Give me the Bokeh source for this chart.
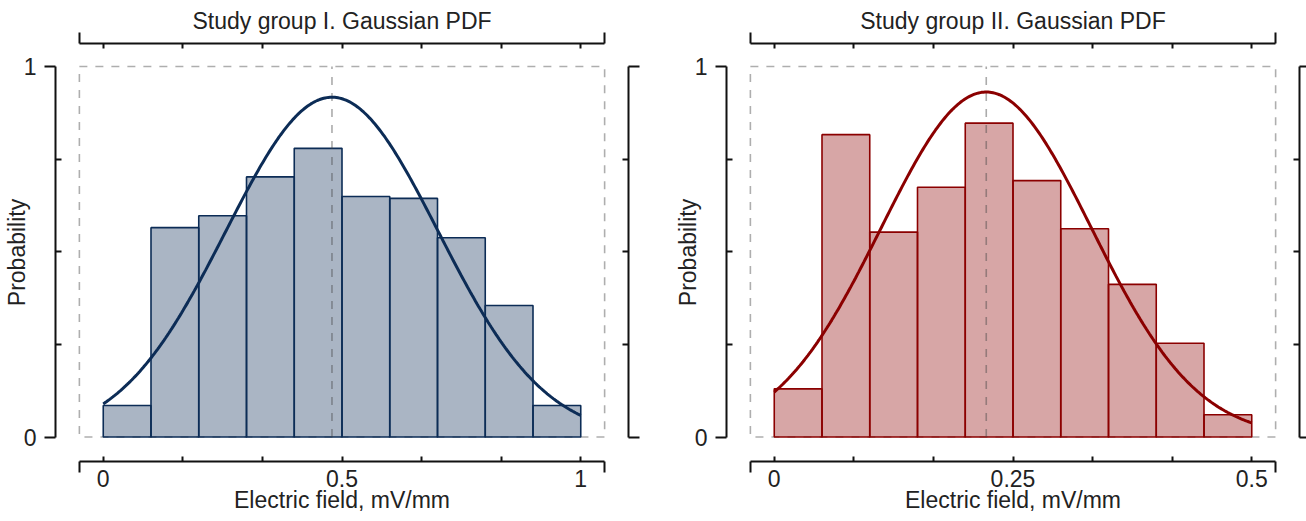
import numpy as np
from bokeh.plotting import figure
from bokeh.models import LinearAxis, FixedTicker, Range1d, CustomLabelingPolicy
from bokeh.layouts import row
from bokeh.embed import file_html
from bokeh.resources import INLINE

# ---------------- data ----------------
titles = ["Study group I. Gaussian PDF", "Study group II. Gaussian PDF"]
x_label = "Electric field, mV/mm"
y_label = "Probability"

g1_edges = [0.0, 0.1, 0.2, 0.3, 0.4, 0.5, 0.6, 0.7, 0.8, 0.9, 1.0]
g1_prob = [0.085, 0.565, 0.597, 0.702, 0.779, 0.649, 0.644, 0.538, 0.355, 0.085]
g1_mu, g1_sigma, g1_peak = 0.479, 0.222, 0.917
g1_xticks = [0, 0.5, 1]
g1_xtick_labels = ["0", "0.5", "1"]
g1_xlim = (-0.05, 1.05)

g2_edges = [0.0, 0.05, 0.1, 0.15, 0.2, 0.25, 0.3, 0.35, 0.4, 0.45, 0.5]
g2_prob = [0.130, 0.816, 0.553, 0.674, 0.847, 0.692, 0.562, 0.412, 0.253, 0.060]
g2_mu, g2_sigma, g2_peak = 0.222, 0.110, 0.931
g2_xticks = [0, 0.25, 0.5]
g2_xtick_labels = ["0", "0.25", "0.5"]
g2_xlim = (-0.025, 0.525)

y_ticks = [0, 1]
y_tick_labels = ["0", "1"]
y_minor = [0.25, 0.5, 0.75]
ylim = (0, 1)

FONT = "Liberation Sans"
FS = "23px"
TXT = "#222222"
AX = "#111111"

HIDE_LABELS = "for (let i = 0; i < indices.size; i++) { indices.unset(i) } return indices"


def style_axis(ax, labels_visible):
    ax.axis_line_width = 2
    ax.axis_line_color = AX
    ax.major_tick_line_width = 2
    ax.minor_tick_line_width = 2
    ax.major_tick_line_color = AX
    ax.minor_tick_line_color = AX
    ax.major_label_text_font = FONT
    ax.major_label_text_color = TXT
    ax.axis_label_text_font = FONT
    ax.axis_label_text_font_style = "normal"
    ax.axis_label_text_font_size = FS
    ax.axis_label_text_color = TXT
    if labels_visible:
        ax.major_label_text_font_size = FS
    else:
        ax.major_label_text_font_size = "0px"
        ax.major_label_standoff = 0
        ax.major_label_policy = CustomLabelingPolicy(code=HIDE_LABELS)


def panel(title, edges, prob, mu, sigma, peak, xticks, xlabels, xlim,
          line_color, width, border_right, right_cap):
    span = xlim[1] - xlim[0]
    pad = span / 1.1 * 0.05
    xr = (xlim[0] - pad, xlim[1] + pad)
    p = figure(width=width, height=521, x_range=Range1d(*xr),
               y_range=Range1d(-0.066, 1.062),
               output_backend="svg", toolbar_location=None,
               x_axis_location=None, y_axis_location=None,
               min_border_left=52, min_border_right=border_right,
               min_border_top=43, min_border_bottom=60)
    p.outline_line_color = None
    p.grid.visible = False

    x0, x1 = xticks[0], xticks[-1]
    minor_x = list(np.linspace(x0, x1, 7))

    # top axis (carries the title)
    top = LinearAxis(bounds=xlim, ticker=FixedTicker(ticks=list(xlim), minor_ticks=minor_x),
                     major_tick_in=0, major_tick_out=11, minor_tick_in=5, minor_tick_out=0,
                     axis_label=title, axis_label_standoff=-1)
    style_axis(top, False)
    p.add_layout(top, "above")

    # bottom axis: line, end caps, inner ticks
    bot = LinearAxis(bounds=xlim, ticker=FixedTicker(ticks=list(xlim), minor_ticks=minor_x),
                     major_tick_in=0, major_tick_out=11, minor_tick_in=5, minor_tick_out=0)
    style_axis(bot, False)
    p.add_layout(bot, "below")

    # bottom tick labels and axis title
    lab = LinearAxis(bounds=xlim, ticker=FixedTicker(ticks=xticks, minor_ticks=[]),
                     major_tick_in=0, major_tick_out=0, minor_tick_in=0, minor_tick_out=0,
                     major_label_overrides={t: s for t, s in zip(xticks, xlabels)},
                     axis_label=x_label, axis_label_standoff=-3)
    style_axis(lab, True)
    lab.axis_line_color = None
    lab.major_label_standoff = -3
    p.add_layout(lab, "below")

    # left axis
    left = LinearAxis(bounds=ylim, ticker=FixedTicker(ticks=y_ticks, minor_ticks=y_minor),
                      major_tick_in=0, major_tick_out=11, minor_tick_in=6, minor_tick_out=0,
                      major_label_overrides={t: s for t, s in zip(y_ticks, y_tick_labels)},
                      axis_label=y_label, axis_label_standoff=-9)
    style_axis(left, True)
    left.major_label_standoff = 8
    p.add_layout(left, "left")

    # right axis
    right = LinearAxis(bounds=ylim, ticker=FixedTicker(ticks=y_ticks, minor_ticks=y_minor),
                       major_tick_in=0, major_tick_out=right_cap, minor_tick_in=6, minor_tick_out=0)
    style_axis(right, False)
    p.add_layout(right, "right")

    # dashed axes box
    p.quad(left=[xlim[0]], right=[xlim[1]], bottom=[ylim[0]], top=[ylim[1]],
           fill_color=None, line_color="#aeaeae", line_width=1.6, line_dash="8 8")

    # histogram
    p.quad(left=edges[:-1], right=edges[1:], bottom=0, top=prob,
           fill_color=line_color, fill_alpha=0.35, line_color=line_color, line_width=1.6)

    # mean line
    p.segment(x0=[mu], y0=[ylim[0]], x1=[mu], y1=[ylim[1]], line_color="#444444",
              line_alpha=0.45, line_width=1.6, line_dash="8 8")

    # gaussian fit
    xs = np.linspace(edges[0], edges[-1], 300)
    ys = peak * np.exp(-(xs - mu) ** 2 / (2 * sigma ** 2))
    p.line(xs, ys, line_color=line_color, line_width=3)
    return p


p1 = panel(titles[0], g1_edges, g1_prob, g1_mu, g1_sigma, g1_peak,
           g1_xticks, g1_xtick_labels, g1_xlim, "#0c2c56", 671, 43, 11)
p2 = panel(titles[1], g2_edges, g2_prob, g2_mu, g2_sigma, g2_peak,
           g2_xticks, g2_xtick_labels, g2_xlim, "#8b0000", 635, 7, 7)

layout = row(p1, p2, spacing=0)
open("out.html", "w").write(file_html(layout, INLINE))
